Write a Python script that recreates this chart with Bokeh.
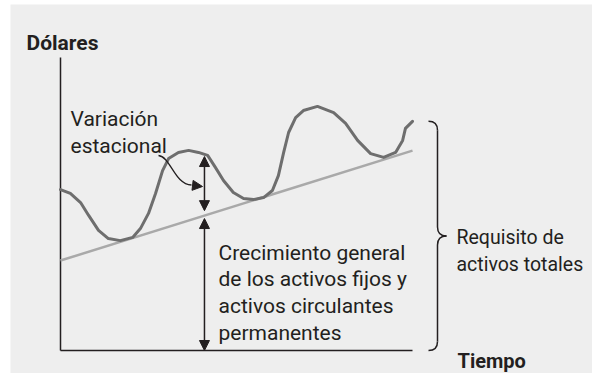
from bokeh.plotting import figure
from bokeh.models import Range1d, Arrow, NormalHead
from bokeh.core.properties import value
from bokeh.embed import file_html
from bokeh.resources import INLINE

# ---------------- data (time / dollars units) ----------------
time = [0.00, 0.28, 0.57, 0.80, 1.08, 1.36, 1.70, 2.05, 2.27, 2.50, 2.70, 2.90,
        3.07, 3.35, 3.64, 3.92, 4.18, 4.40, 4.63, 4.91, 5.20, 5.48, 5.77, 6.02,
        6.19, 6.34, 6.48, 6.68, 6.90, 7.30, 7.76, 8.10, 8.44, 8.81, 9.18, 9.52,
        9.72, 9.80, 10.00]
dollars = [5.49, 5.36, 5.05, 4.61, 4.10, 3.82, 3.75, 3.86, 4.16, 4.68, 5.36, 6.14,
           6.55, 6.76, 6.83, 6.76, 6.66, 6.25, 5.80, 5.39, 5.19, 5.15, 5.22, 5.46,
           5.97, 6.76, 7.44, 7.95, 8.19, 8.33, 8.12, 7.75, 7.17, 6.72, 6.59, 6.76,
           7.17, 7.58, 7.82]
trend_time = [0.0, 10.0]
trend_dollars = [3.07, 6.82]
arrow_time = 4.09
seasonal_top = 6.62

y_label = "Dólares"
x_label = "Tiempo"
seasonal_lines = ["Variación", "estacional"]
growth_lines = ["Crecimiento general", "de los activos fijos y",
                "activos circulantes", "permanentes"]
total_lines = ["Requisito de", "activos totales"]

# ---------------- layout helpers (picture pixels -> data units) ----------------
X0, SX = 60.0, 35.2
Y0, SY = 350.0, 29.3
def tx(px):
    return (px - X0) / SX
def dy(py):
    return (Y0 - py) / SY

FONT = "Roboto"
TEXT = "#231f20"
BG = "#eeeeee"

p = figure(width=592, height=373, x_range=Range1d(tx(10), tx(592)),
           y_range=Range1d(dy(373), dy(4)), x_axis_type=None, y_axis_type=None,
           toolbar_location=None, output_backend="svg",
           min_border_left=10, min_border_top=4, min_border_right=0, min_border_bottom=0,
           background_fill_color=BG, border_fill_color="white", outline_line_color=None)
p.grid.visible = False

# axes lines
p.line([0, 0], [0, 10], line_color=TEXT, line_width=1.5)
p.line([0, 10], [0, 0], line_color=TEXT, line_width=1.5)

# trend and curve
p.line(trend_time, trend_dollars, line_color="#a9a9a9", line_width=2.5)
p.line(time, dollars, line_color="#6e6e6e", line_width=3, line_join="round", line_cap="round")

def trend_at(t):
    return trend_dollars[0] + (trend_dollars[1] - trend_dollars[0]) * (t - trend_time[0]) / (trend_time[1] - trend_time[0])

tr = trend_at(arrow_time)
for ys, ye in [(tr + 0.17, seasonal_top), (0.0, tr - 0.1)]:
    p.add_layout(Arrow(x_start=arrow_time, y_start=ys, x_end=arrow_time, y_end=ye,
                       line_color=TEXT, line_width=1.5,
                       start=NormalHead(size=10, fill_color=TEXT, line_color=TEXT),
                       end=NormalHead(size=10, fill_color=TEXT, line_color=TEXT)))

# curved pointer
p.bezier(x0=[tx(158)], y0=[dy(155)], x1=[tx(191)], y1=[dy(184.5)],
         cx0=[tx(170)], cy0=[dy(156)], cx1=[tx(174)], cy1=[dy(184)],
         line_color=TEXT, line_width=1.3)
p.add_layout(Arrow(x_start=tx(189), y_start=dy(184.5), x_end=tx(202), y_end=dy(186),
                   line_color=TEXT, line_width=1.3, line_alpha=0,
                   end=NormalHead(size=10, fill_color=TEXT, line_color=TEXT)))

# brace from 0 to end of curve
bt, bb = dollars[-1], 0.0
bmid = (bt + bb) / 2
xa, xb, xc = tx(428), tx(437), tx(446)
h = 9 / SY
p.bezier(x0=[xa, xb, xc, xb], y0=[bt, bmid + h, bmid, h],
         x1=[xb, xc, xb, xa], y1=[bt - h, bmid, bmid - h, bb],
         cx0=[tx(434), xb, tx(441), xb], cy0=[bt, bmid + h * 0.3, bmid, h * 0.3],
         cx1=[xb, tx(441), xb, tx(434)], cy1=[bt - h * 0.3, bmid, bmid - h * 0.3, bb],
         line_color=TEXT, line_width=1.5)
p.segment(x0=[xb, xb], y0=[bt - h, bmid - h], x1=[xb, xb], y1=[bmid + h, h],
          line_color=TEXT, line_width=1.5)

# texts
def put(lines, px, py0, step, size, style="normal"):
    p.text(x=[tx(px)] * len(lines), y=[dy(py0 + i * step) for i in range(len(lines))],
           text=lines, text_font=value(FONT), text_font_size=size,
           text_font_style=style, text_color=TEXT,
           text_baseline="alphabetic", text_align="left")

put([y_label], 26, 42, 0, "21px", "bold")
put([x_label], 457, 360, 0, "20px", "bold")
put(seasonal_lines, 70, 118, 27, "21px")
put(growth_lines, 218, 252, 26.7, "21px")
put(total_lines, 456, 237, 26.5, "19.5px")

open("out.html", "w").write(file_html(p, INLINE))
